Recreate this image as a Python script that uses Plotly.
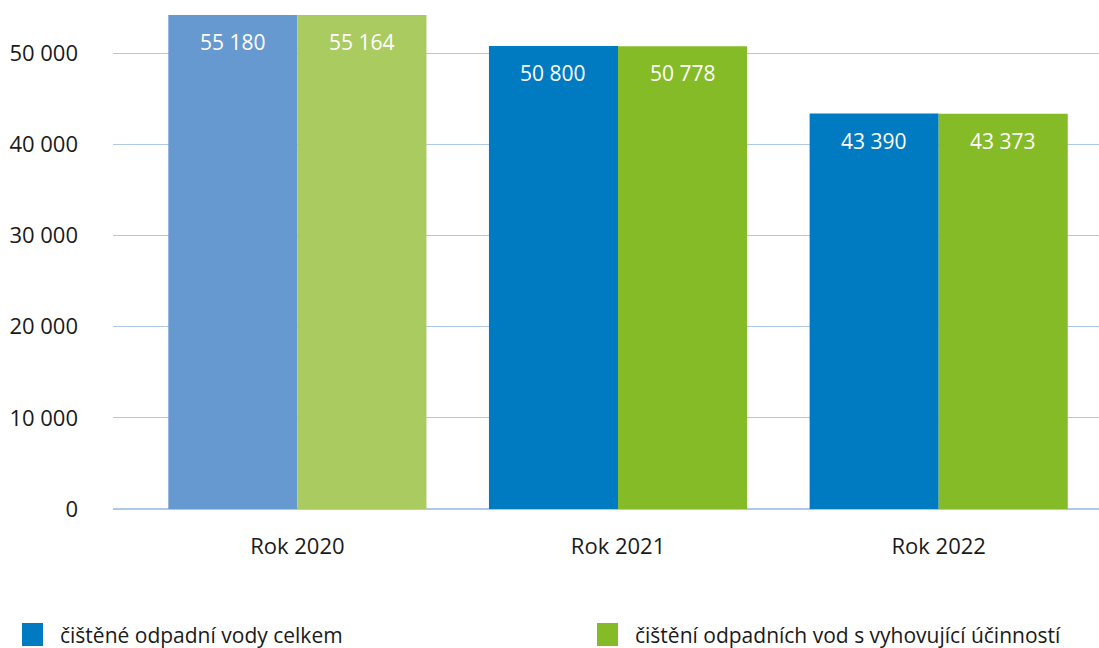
import plotly.graph_objects as go

categories = ["Rok 2020", "Rok 2021", "Rok 2022"]
series_names = ["čištěné odpadní vody celkem", "čištění odpadních vod s vyhovující účinností"]
total_values = [55180, 50800, 43390]
effective_values = [55164, 50778, 43373]
total_colors = ["#6799D1", "#007AC0", "#007AC0"]
effective_colors = ["#AACB60", "#84BB26", "#84BB26"]
legend_colors = ["#007AC0", "#84BB26"]
y_ticks = [0, 10000, 20000, 30000, 40000, 50000]

FONT = "Open Sans"
Y_MAX = 54200
BARGAP = 0.195

fig = go.Figure()
fig.add_trace(go.Bar(x=categories, y=total_values, name=series_names[0],
                     marker=dict(color=total_colors, line=dict(width=0)),
                     showlegend=False, hoverinfo="skip"))
fig.add_trace(go.Bar(x=categories, y=effective_values, name=series_names[1],
                     marker=dict(color=effective_colors, line=dict(width=0)),
                     showlegend=False, hoverinfo="skip"))

# value labels inside the top of each bar
half = (1 - BARGAP) / 4
for i, (a, b) in enumerate(zip(total_values, effective_values)):
    for off, v in ((-half, a), (half, b)):
        fig.add_annotation(x=i + off, y=min(v, Y_MAX), xref="x", yref="y",
                           text=f"{v:,}".replace(",", " "), showarrow=False,
                           yanchor="middle", yshift=-27,
                           font=dict(family=FONT, size=21, color="white"))

# custom legend
legend_x = [22, 597]
for name, col, lx in zip(series_names, legend_colors, legend_x):
    fig.add_shape(type="rect", xref="paper", yref="paper",
                  x0=(lx - 113) / 986, x1=(lx + 21 - 113) / 986,
                  y0=-(646 - 509) / 494, y1=-(623 - 509) / 494,
                  fillcolor=col, line=dict(width=0))
    fig.add_annotation(xref="paper", yref="paper",
                       x=(lx + 36 - 113) / 986, y=-(635 - 509) / 494,
                       xanchor="left", yanchor="middle", showarrow=False,
                       text=name, font=dict(family=FONT, size=21, color="#1a1a1a"))

fig.update_layout(
    width=1099, height=648,
    margin=dict(l=113, r=0, t=15, b=139),
    paper_bgcolor="white", plot_bgcolor="white",
    barmode="group", bargap=BARGAP, bargroupgap=0,
    separators=", ",
    showlegend=False,
    font=dict(family=FONT, color="#1a1a1a"),
)
fig.update_xaxes(range=[-0.575, 2.5], showgrid=False, showline=False, ticks="",
                 tickfont=dict(family=FONT, size=22, color="#1a1a1a"),
                 ticklabelstandoff=22)
fig.update_yaxes(range=[0, Y_MAX], tickvals=y_ticks, tickformat=",d",
                 showgrid=True, gridcolor="#AFC7E8", gridwidth=1.2,
                 zeroline=True, zerolinecolor="#AFC7E8", zerolinewidth=2,
                 showline=False, ticks="",
                 tickfont=dict(family=FONT, size=22, color="#1a1a1a"),
                 ticklabelstandoff=34)

fig.write_html("out.html", config={"displayModeBar": False, "staticPlot": True},
               post_script="document.body.style.margin='0';document.body.style.overflow='hidden';")
